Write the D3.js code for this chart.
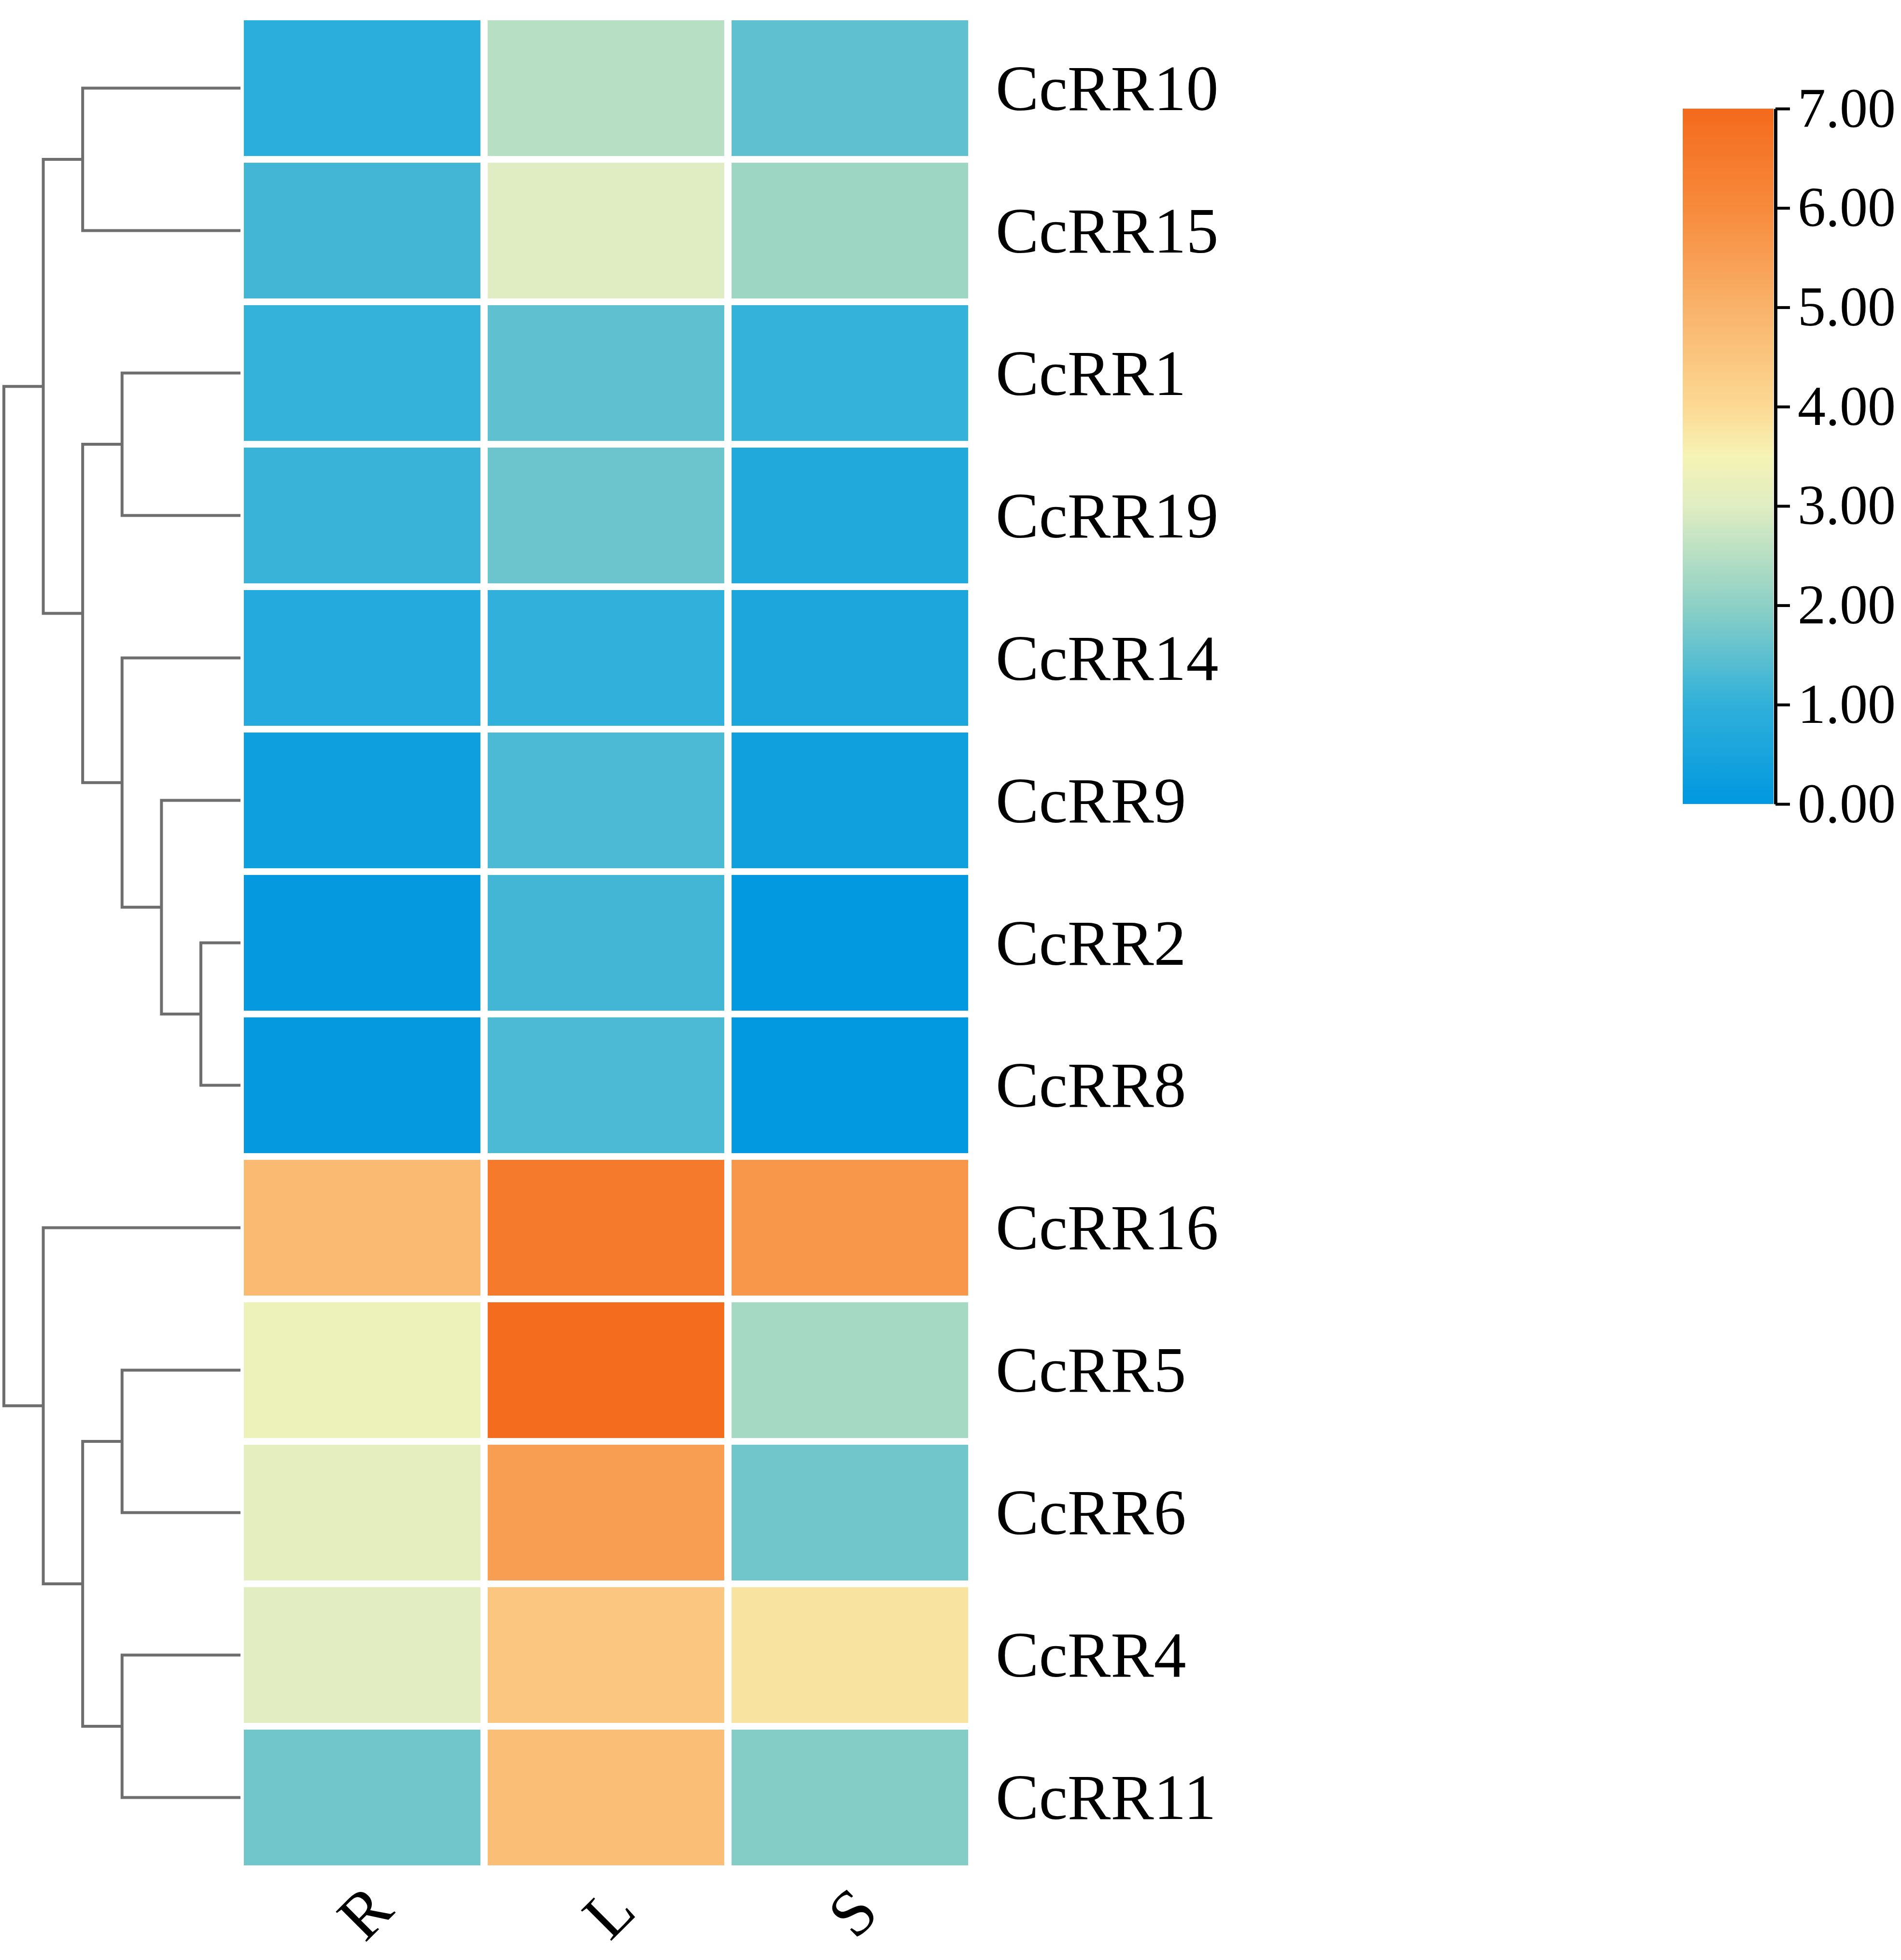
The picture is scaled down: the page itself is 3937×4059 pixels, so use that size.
<!DOCTYPE html>
<html>
<head>
<meta charset="utf-8">
<script src="https://cdn.jsdelivr.net/npm/d3@7"></script>
<style>
  body { margin: 0; background: #fff; }
  text { font-family: "Liberation Serif", "Times New Roman", serif; fill: #000; }
</style>
</head>
<body>
<script>
// genes in row order (top to bottom), tissues in column order
var genes = ["CcRR10","CcRR15","CcRR1","CcRR19","CcRR14","CcRR9","CcRR2","CcRR8",
             "CcRR16","CcRR5","CcRR6","CcRR4","CcRR11"]
var tissues = ["R","L","S"]

// expression values, one array per tissue, same order as genes
var valuesR = [0.9, 1.2, 1.05, 1.1, 0.75, 0.3, 0.1, 0.1, 4.8, 3.3, 3.1, 3.05, 1.7]
var valuesL = [2.5, 3.0, 1.5, 1.65, 1.0, 1.3, 1.2, 1.3, 6.5, 6.9, 5.5, 4.5, 4.7]
var valuesS = [1.5, 2.2, 1.05, 0.7, 0.6, 0.35, 0.05, 0.05, 5.7, 2.3, 1.7, 3.8, 1.9]

// row clustering (nested pairs)
var tree = [
  [["CcRR10","CcRR15"], [["CcRR1","CcRR19"], ["CcRR14", ["CcRR9", ["CcRR2","CcRR8"]]]]],
  ["CcRR16", [["CcRR5","CcRR6"], ["CcRR4","CcRR11"]]]
]

// colour bar
var legendTicks = [0,1,2,3,4,5,6,7]
var colorStops = [0, 1, 2, 3, 3.5, 4, 5, 6, 7]
var colorValues = ["#0098e0","#30b0da","#8dd0c5","#e0edc2","#f5f3b5","#fcd993","#f9b26a","#f78a3c","#f46a1c"]

var width = 3937
var height = 4059

var svg = d3.select("body").append("svg")
    .attr("width", width)
    .attr("height", height)

var color = d3.scaleLinear().domain(colorStops).range(colorValues)

var x = d3.scaleBand().domain(tissues).range([505, 2005]).paddingInner(0.03)
var y = d3.scaleBand().domain(genes).range([42, 3863]).paddingInner(0.047)

var allValues = [valuesR, valuesL, valuesS]
var cells = []
tissues.forEach(function(t, j){
    genes.forEach(function(g, i){
        cells.push({gene: g, tissue: t, value: allValues[j][i]})
    })
})

// heatmap cells
svg.append("g").selectAll("rect")
    .data(cells)
    .enter().append("rect")
    .attr("x", function(d){ return x(d.tissue) })
    .attr("y", function(d){ return y(d.gene) })
    .attr("width", x.bandwidth())
    .attr("height", y.bandwidth())
    .style("fill", function(d){ return color(d.value) })

// gene labels
svg.append("g").selectAll("text")
    .data(genes)
    .enter().append("text")
    .attr("x", 2062)
    .attr("y", function(d){ return y(d) + y.bandwidth()/2 + 45 })
    .style("font-size", "134px")
    .text(function(d){ return d })

// tissue labels, turned
svg.append("g").selectAll("text")
    .data(tissues)
    .enter().append("text")
    .attr("transform", function(d){
        return "translate(" + (x(d) + x.bandwidth()/2 + 5) + ",3960) rotate(-45)"
    })
    .attr("text-anchor", "middle")
    .attr("dy", "0.34em")
    .style("font-size", "136px")
    .text(function(d){ return d })

// dendrogram
var root = d3.hierarchy(tree, function(d){ return Array.isArray(d) ? d : null })
var depthX = d3.scaleLinear().domain([0, 5]).range([8, 416])
var leafX = 495

root.eachAfter(function(n){
    if (n.children) {
        n.px = depthX(n.depth)
        n.py = d3.mean(n.children, function(c){ return c.py })
    } else {
        n.px = leafX
        n.py = y(n.data) + y.bandwidth()/2
    }
})

var pathStr = ""
root.each(function(n){
    if (!n.children) return
    var first = n.children[0], last = n.children[n.children.length-1]
    pathStr += "M" + n.px + "," + first.py + "V" + last.py
    n.children.forEach(function(c){
        pathStr += "M" + n.px + "," + c.py + "H" + c.px
    })
})

svg.append("path")
    .attr("d", pathStr)
    .style("fill", "none")
    .style("stroke", "#6e6e6e")
    .style("stroke-width", 6)
    .style("stroke-linecap", "square")

// colour bar
var defs = svg.append("defs")
var grad = defs.append("linearGradient")
    .attr("id", "cbar")
    .attr("x1", "0").attr("y1", "1").attr("x2", "0").attr("y2", "0")

grad.selectAll("stop")
    .data(colorStops)
    .enter().append("stop")
    .attr("offset", function(d){ return (d / 7 * 100) + "%" })
    .attr("stop-color", function(d){ return color(d) })

var legendY = d3.scaleLinear().domain([0, 7]).range([1665, 225])

svg.append("rect")
    .attr("x", 3485)
    .attr("y", legendY(7))
    .attr("width", 188)
    .attr("height", legendY(0) - legendY(7))
    .style("fill", "url(#cbar)")

var legendAxis = svg.append("g")
    .attr("transform", "translate(3677,0)")
    .call(d3.axisRight(legendY)
        .tickValues(legendTicks)
        .tickFormat(d3.format(".2f"))
        .tickSize(30)
        .tickSizeOuter(0)
        .tickPadding(16))

legendAxis.select(".domain").style("stroke", "#000").style("stroke-width", 7)
legendAxis.selectAll(".tick line").style("stroke", "#000").style("stroke-width", 6)
legendAxis.selectAll(".tick text")
    .style("font-family", "'Liberation Serif', 'Times New Roman', serif")
    .style("font-size", "116px")
    .attr("fill", "#000")
</script>
</body>
</html>
